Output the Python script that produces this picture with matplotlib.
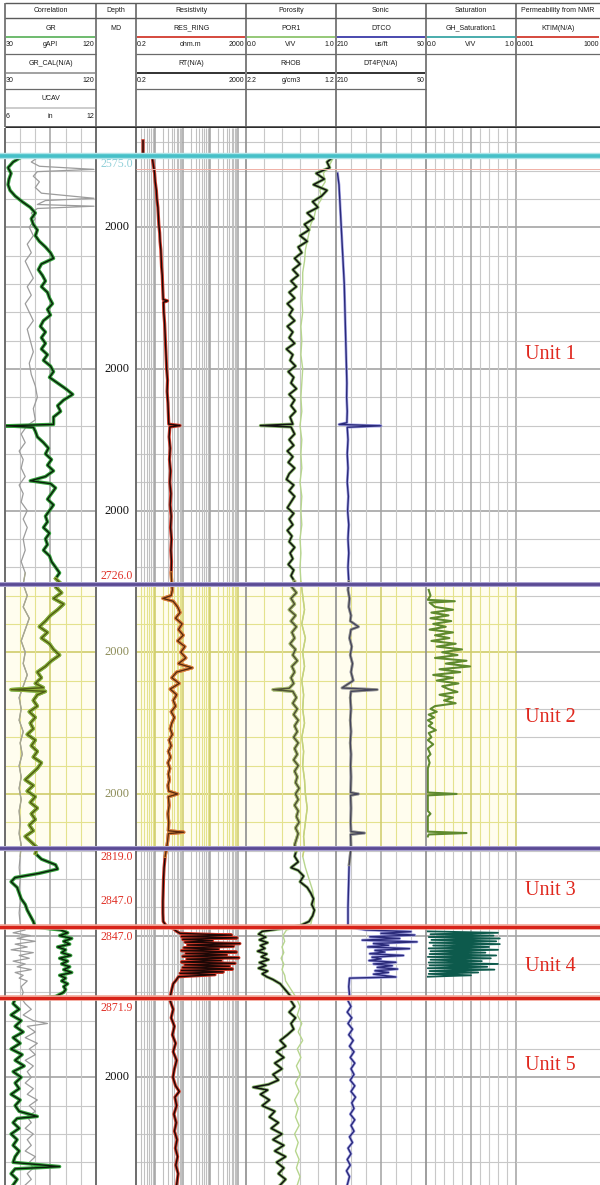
import numpy as np
import matplotlib
matplotlib.use("Agg")
import matplotlib.pyplot as plt

plt.rcParams['font.family'] = ['Liberation Sans', 'DejaVu Sans']

# formation tops (m MD)
tops = [2575.0, 2726.0, 2819.0, 2847.0, 2871.9]
unit_names = ["Unit 1", "Unit 2", "Unit 3", "Unit 4", "Unit 5"]
unit_label_depth = [2645, 2773, 2834, 2861, 2896]

depth_ticks = [2600, 2650, 2700, 2750, 2800, 2900]
depth_tick_labels = ["2000", "2000", "2000", "2000", "2000", "2000"]

# header text
titles = ["Correlation", "Depth", "Resistivity", "Porosity", "Sonic", "Saturation", "Permeability from NMR"]
curve_rows = [
    [("GR", "30", "gAPI", "120", "#62b562"), ("GR_CAL(N/A)", "30", "", "120", "#9a9a9a"),
     ("UCAV", "6", "in", "12", "#c8c8c8")],
    [],
    [("RES_RING", "0.2", "ohm.m", "2000", "#d23a2e"), ("RT(N/A)", "0.2", "", "2000", "#222222")],
    [("POR1", "0.0", "V/V", "1.0", "#8cc46c"), ("RHOB", "2.2", "g/cm3", "1.2", "#222222")],
    [("DTCO", "210", "us/ft", "90", "#3c3ca8"), ("DT4P(N/A)", "210", "", "90", "#222222")],
    [("GH_Saturation1", "0.0", "V/V", "1.0", "#3aa6a6")],
    [("KTIM(N/A)", "0.001", "", "1000", "#d23a2e")],
]

# curves: (depth m, value)
gr = [(2575.5, 45), (2577, 38), (2579, 33), (2581, 36), (2583, 34), (2585, 33), (2587, 35), (2589, 40),
      (2591, 47), (2593, 55), (2595, 60), (2597, 56), (2599, 58), (2601, 62), (2603, 60), (2605, 64),
      (2607, 70), (2609, 75), (2611, 78), (2613, 66), (2615, 63), (2617, 67), (2619, 70), (2621, 66),
      (2623, 72), (2625, 74), (2627, 77), (2629, 72), (2631, 75), (2633, 68), (2635, 65), (2637, 70),
      (2639, 66), (2641, 70), (2643, 66), (2645, 72), (2647, 68), (2649, 75), (2651, 78), (2653, 74),
      (2655, 82), (2657, 90), (2659, 97), (2661, 88), (2663, 82), (2665, 85), (2667, 78), (2669.6, 78),
      (2670.1, 31), (2670.6, 58), (2672, 60), (2674, 62), (2676, 68), (2678, 73), (2680, 70), (2682, 76),
      (2684, 72), (2686, 78), (2688, 70), (2689.5, 55), (2690.5, 75), (2692, 80), (2694, 76), (2696, 72),
      (2698, 78), (2700, 74), (2702, 70), (2704, 72), (2706, 68), (2708, 74), (2710, 70), (2712, 72),
      (2714, 68), (2716, 74), (2718, 76), (2720, 80), (2722, 84), (2724, 80), (2726, 86),
      (2727, 80), (2729, 86), (2731, 78), (2733, 88), (2735, 82), (2737, 75), (2739, 70), (2741, 64),
      (2743, 72), (2745, 66), (2747, 74), (2749, 78), (2751, 84), (2753, 76), (2755, 70), (2757, 62),
      (2759, 66), (2761, 60), (2762.5, 68), (2763.2, 36), (2763.8, 70), (2765, 62), (2767, 58), (2769, 62),
      (2771, 54), (2773, 60), (2775, 55), (2777, 58), (2779, 52), (2781, 60), (2783, 56), (2785, 62),
      (2787, 58), (2789, 66), (2791, 62), (2793, 56), (2795, 50), (2797, 58), (2799, 52), (2801, 60),
      (2803, 55), (2805, 62), (2807, 56), (2809, 60), (2811, 54), (2813, 58), (2815, 50), (2817, 56),
      (2819, 62), (2821, 60), (2823, 66), (2825, 80), (2826.5, 82), (2828, 64), (2829.5, 40), (2831, 36),
      (2833, 42), (2835, 44), (2837, 46), (2839, 50), (2841, 52), (2843, 55), (2845, 58), (2847, 60),
      (2848, 85), (2849, 92), (2850, 84), (2851, 96), (2852, 88), (2853, 94), (2854, 82), (2855, 90),
      (2856, 86), (2857, 95), (2858, 84), (2859, 92), (2860, 86), (2861, 94), (2862, 88), (2863, 96),
      (2864, 84), (2865, 90), (2866, 86), (2867, 92), (2868, 88), (2869, 90), (2870, 88), (2871.5, 80),
      (2872.5, 40), (2874, 38), (2876, 44), (2878, 36), (2880, 46), (2882, 40), (2884, 48), (2886, 38),
      (2888, 45), (2890, 36), (2892, 47), (2894, 40), (2896, 49), (2898, 38), (2900, 46), (2902, 40),
      (2904, 44), (2906, 36), (2908, 45), (2910, 40), (2912, 44), (2913.8, 62), (2914.5, 42), (2916, 38),
      (2918, 44), (2920, 36), (2922, 42), (2924, 38), (2926, 44), (2928, 40), (2930, 38), (2931.5, 84),
      (2932.3, 40), (2934, 36), (2936, 42), (2938, 38)]

gr_cal = [(2575.5, 62), (2577, 56), (2578.5, 64), (2579.6, 118), (2580.4, 62), (2582, 58), (2584, 64),
          (2586, 60), (2588, 66), (2589.8, 118), (2590.6, 70), (2592, 62), (2592.6, 118), (2593.4, 62),
          (2595, 56), (2597, 60), (2600, 54), (2603, 58), (2606, 52), (2609, 56), (2612, 50), (2615, 54),
          (2618, 58), (2621, 52), (2624, 56), (2627, 50), (2630, 54), (2633, 58), (2636, 52), (2640, 55),
          (2644, 58), (2648, 54), (2652, 56), (2656, 60), (2660, 62), (2664, 58), (2668, 60), (2670, 52),
          (2673, 46), (2676, 50), (2679, 44), (2682, 48), (2685, 46), (2688, 50), (2691, 44), (2694, 48),
          (2697, 46), (2700, 52), (2703, 48), (2706, 52), (2710, 48), (2714, 50), (2718, 46), (2722, 50),
          (2726, 48), (2730, 52), (2734, 48), (2738, 54), (2742, 50), (2746, 46), (2750, 50), (2754, 48),
          (2758, 52), (2762, 48), (2766, 44), (2770, 46), (2774, 44), (2778, 48), (2782, 45), (2786, 47),
          (2790, 44), (2794, 46), (2798, 44), (2802, 46), (2806, 44), (2810, 45), (2814, 44), (2818, 46),
          (2822, 45), (2826, 44), (2830, 45), (2834, 44), (2838, 45), (2842, 44), (2846, 45), (2848, 50),
          (2849, 38), (2850, 55), (2851, 42), (2852, 60), (2853, 40), (2854, 52), (2855, 36), (2856, 58),
          (2857, 44), (2858, 54), (2859, 38), (2860, 50), (2861, 42), (2862, 56), (2863, 40), (2864, 48),
          (2865, 44), (2866, 52), (2868, 46), (2870, 48), (2872, 46), (2874, 50), (2876, 56), (2878, 48),
          (2880, 58), (2881, 72), (2882, 52), (2884, 60), (2886, 50), (2888, 62), (2890, 54), (2892, 60),
          (2894, 50), (2896, 58), (2898, 52), (2900, 56), (2902, 50), (2904, 58), (2906, 52), (2908, 62),
          (2910, 54), (2912, 60), (2914, 52), (2916, 56), (2918, 50), (2920, 58), (2922, 52), (2924, 56),
          (2926, 50), (2928, 60), (2930, 54), (2932, 58), (2934, 52), (2936, 56), (2938, 50)]

res = [(2569.5, 0.36), (2574.5, 0.36), (2575.5, 0.78), (2578, 0.85), (2581, 0.95), (2584, 1.0), (2587, 1.1),
       (2590, 1.15), (2593, 1.25), (2596, 1.3), (2599, 1.35), (2602, 1.45), (2605, 1.5), (2608, 1.6),
       (2611, 1.65), (2614, 1.7), (2617, 1.8), (2620, 1.85), (2623, 1.9), (2625.5, 1.95), (2626, 2.8),
       (2626.5, 2.0), (2630, 2.05), (2634, 2.2), (2638, 2.3), (2642, 2.4), (2646, 2.5), (2650, 2.6),
       (2654, 2.8), (2658, 2.7), (2662, 2.9), (2666, 3.0), (2669.5, 3.1), (2670, 8.0), (2670.5, 3.4),
       (2674, 3.2), (2678, 3.5), (2682, 3.3), (2686, 3.6), (2690, 3.4), (2694, 3.7), (2698, 3.5),
       (2702, 3.8), (2706, 3.6), (2710, 3.9), (2714, 3.7), (2718, 3.9), (2722, 3.8), (2726, 4.0),
       (2728, 4.2), (2730, 3.8), (2731, 1.9), (2732, 4.5), (2734, 6.5), (2736, 8.0), (2738, 5.5),
       (2740, 9.5), (2742, 7.0), (2744, 10.5), (2746, 6.5), (2748, 12.0), (2750, 8.5), (2752, 13.0),
       (2754, 7.0), (2755.5, 22.0), (2757, 6.0), (2759, 4.0), (2761, 7.5), (2763, 3.5), (2765, 6.0),
       (2767, 4.5), (2769, 5.5), (2771, 3.8), (2773, 5.0), (2775, 4.0), (2777, 3.5), (2779, 4.2),
       (2781, 3.2), (2783, 3.8), (2785, 3.0), (2787, 3.6), (2789, 2.9), (2791, 3.4), (2793, 3.0),
       (2795, 3.3), (2797, 2.9), (2799, 3.1), (2800, 6.5), (2801, 3.0), (2804, 3.2), (2807, 2.9),
       (2810, 3.1), (2813, 3.0), (2813.5, 11.0), (2814, 3.0), (2817, 2.8), (2819, 2.6), (2822, 2.3),
       (2826, 2.1), (2830, 2.0), (2834, 1.95), (2838, 1.9), (2842, 1.9), (2845, 1.95), (2846.5, 2.5),
       (2847.5, 4.5), (2848.5, 6.0), (2849.2, 8.0), (2849.8, 600), (2850.3, 9), (2850.8, 950),
       (2851.3, 10), (2851.8, 120), (2852.3, 12), (2852.8, 1200), (2853.3, 15), (2853.8, 700),
       (2854.3, 11), (2854.8, 200), (2855.3, 9), (2855.8, 900), (2856.3, 13), (2856.8, 400),
       (2857.3, 10), (2857.8, 1100), (2858.3, 14), (2858.8, 250), (2859.3, 9), (2859.8, 800),
       (2860.3, 12), (2860.8, 500), (2861.3, 10), (2861.8, 650), (2862.3, 9), (2862.8, 300),
       (2863.3, 8), (2863.8, 150), (2864.5, 7), (2865.5, 6), (2867, 4.5), (2869, 4.0), (2871, 3.6),
       (2873, 3.5), (2876, 4.5), (2879, 3.8), (2882, 5.0), (2885, 4.2), (2888, 5.5), (2891, 4.5),
       (2894, 6.0), (2897, 5.0), (2900, 4.4), (2903, 5.5), (2905, 7.5), (2907, 5.2), (2910, 6.0),
       (2913, 4.8), (2916, 5.8), (2919, 5.0), (2922, 6.2), (2925, 5.4), (2928, 6.5), (2931, 5.6),
       (2934, 6.8), (2938, 6.0)]

rhob = [(2575.5, 1.24), (2577, 1.30), (2579, 1.27), (2581, 1.42), (2583, 1.33), (2585, 1.45), (2587, 1.30),
        (2589, 1.36), (2591, 1.46), (2593, 1.40), (2595, 1.52), (2597, 1.45), (2599, 1.55), (2601, 1.50),
        (2603, 1.60), (2605, 1.52), (2607, 1.62), (2609, 1.58), (2611, 1.66), (2613, 1.60), (2615, 1.68),
        (2617, 1.62), (2619, 1.70), (2621, 1.64), (2623, 1.72), (2625, 1.66), (2627, 1.74), (2629, 1.68),
        (2631, 1.72), (2633, 1.66), (2635, 1.74), (2637, 1.68), (2639, 1.72), (2641, 1.66), (2643, 1.75),
        (2645, 1.68), (2647, 1.71), (2649, 1.65), (2651, 1.73), (2653, 1.67), (2655, 1.70), (2657, 1.64),
        (2659, 1.72), (2661, 1.66), (2663, 1.70), (2665, 1.65), (2667, 1.71), (2669.5, 1.68), (2670, 2.04),
        (2670.5, 1.70), (2673, 1.66), (2675, 1.72), (2677, 1.67), (2679, 1.74), (2681, 1.68), (2683, 1.73),
        (2685, 1.66), (2687, 1.72), (2689, 1.75), (2691, 1.67), (2693, 1.72), (2695, 1.66), (2697, 1.70),
        (2699, 1.74), (2701, 1.67), (2703, 1.72), (2705, 1.68), (2707, 1.74), (2709, 1.69), (2711, 1.72),
        (2713, 1.66), (2715, 1.71), (2717, 1.68), (2719, 1.73), (2721, 1.67), (2723, 1.70), (2725, 1.66),
        (2727, 1.69), (2729, 1.64), (2731, 1.70), (2733, 1.66), (2735, 1.72), (2737, 1.65), (2739, 1.70),
        (2741, 1.64), (2743, 1.69), (2745, 1.66), (2747, 1.71), (2749, 1.65), (2751, 1.68), (2753, 1.63),
        (2755, 1.69), (2757, 1.66), (2759, 1.70), (2761, 1.67), (2762.7, 1.72), (2763.2, 1.90),
        (2763.8, 1.68), (2766, 1.64), (2768, 1.68), (2770, 1.63), (2772, 1.67), (2774, 1.62), (2776, 1.66),
        (2778, 1.63), (2780, 1.67), (2782, 1.62), (2784, 1.66), (2786, 1.63), (2788, 1.67), (2790, 1.62),
        (2792, 1.66), (2794, 1.63), (2796, 1.65), (2798, 1.61), (2800, 1.65), (2802, 1.62), (2804, 1.66),
        (2806, 1.62), (2808, 1.64), (2810, 1.61), (2812, 1.65), (2814, 1.62), (2816, 1.64), (2818, 1.66),
        (2820, 1.64), (2822, 1.66), (2824, 1.62), (2826, 1.70), (2827, 1.62), (2829, 1.56), (2831, 1.60),
        (2833, 1.52), (2835, 1.48), (2837, 1.45), (2839, 1.47), (2841, 1.44), (2843, 1.46), (2845, 1.50),
        (2846.5, 1.60), (2847.5, 1.80), (2848.5, 2.02), (2849.5, 2.06), (2850.5, 1.98), (2851.5, 2.05),
        (2852.5, 1.96), (2853.5, 2.04), (2854.5, 1.99), (2855.5, 2.07), (2856.5, 1.97), (2857.5, 2.03),
        (2858.5, 1.95), (2859.5, 2.05), (2860.5, 1.98), (2861.5, 2.06), (2862.5, 1.96), (2863.5, 2.02),
        (2864.5, 1.97), (2865.5, 1.90), (2867, 1.82), (2868.5, 1.78), (2870, 1.74), (2871.5, 1.70),
        (2873, 1.70), (2875, 1.66), (2877, 1.72), (2879, 1.65), (2881, 1.70), (2883, 1.67), (2885, 1.74),
        (2887, 1.82), (2889, 1.76), (2891, 1.86), (2893, 1.78), (2895, 1.88), (2897, 1.80), (2899, 1.90),
        (2901, 1.84), (2902.5, 1.95), (2903.5, 2.12), (2904.5, 1.96), (2906, 2.04), (2908, 1.94),
        (2910, 2.02), (2912, 1.88), (2914, 1.94), (2916, 1.84), (2918, 1.92), (2920, 1.80), (2922, 1.90),
        (2924, 1.78), (2926, 1.88), (2928, 1.76), (2930, 1.86), (2932, 1.78), (2934, 1.84), (2936, 1.76),
        (2938, 1.82)]

por1 = [(2575.5, 0.97), (2578, 0.93), (2581, 0.86), (2584, 0.88), (2587, 0.82), (2590, 0.84), (2593, 0.78),
        (2596, 0.76), (2599, 0.72), (2602, 0.70), (2605, 0.68), (2608, 0.66), (2612, 0.65), (2616, 0.63),
        (2620, 0.63), (2625, 0.62), (2630, 0.63), (2635, 0.61), (2640, 0.62), (2645, 0.61), (2650, 0.63),
        (2655, 0.62), (2660, 0.61), (2665, 0.62), (2670, 0.60), (2675, 0.62), (2680, 0.61), (2685, 0.62),
        (2690, 0.60), (2695, 0.62), (2700, 0.61), (2705, 0.62), (2710, 0.60), (2715, 0.61), (2720, 0.60),
        (2725, 0.61), (2730, 0.63), (2735, 0.65), (2740, 0.62), (2745, 0.66), (2750, 0.63), (2755, 0.65),
        (2760, 0.62), (2765, 0.64), (2770, 0.63), (2775, 0.65), (2780, 0.62), (2785, 0.64), (2790, 0.63),
        (2795, 0.65), (2800, 0.66), (2805, 0.68), (2810, 0.66), (2815, 0.64), (2819, 0.65), (2822, 0.63),
        (2826, 0.66), (2830, 0.70), (2834, 0.74), (2838, 0.76), (2842, 0.75), (2846, 0.72), (2848, 0.45),
        (2850, 0.41), (2852, 0.43), (2854, 0.40), (2856, 0.42), (2858, 0.39), (2860, 0.42), (2862, 0.40),
        (2864, 0.43), (2866, 0.44), (2868, 0.48), (2870, 0.52), (2872, 0.56), (2875, 0.60), (2878, 0.57),
        (2881, 0.62), (2884, 0.58), (2887, 0.63), (2890, 0.57), (2893, 0.61), (2896, 0.56), (2899, 0.60),
        (2902, 0.55), (2905, 0.59), (2908, 0.54), (2911, 0.58), (2914, 0.55), (2917, 0.59), (2920, 0.54),
        (2923, 0.58), (2926, 0.55), (2929, 0.59), (2932, 0.56), (2935, 0.60), (2938, 0.57)]

dtco = [(2581, 208), (2585, 206), (2590, 205), (2595, 204), (2600, 203), (2605, 202), (2610, 201),
        (2615, 200), (2620, 199), (2625, 198.5), (2630, 198), (2635, 197.5), (2640, 197), (2645, 196.5),
        (2650, 196), (2655, 195.5), (2660, 195.8), (2665, 195), (2669, 195.5), (2669.6, 206), (2670.1, 150),
        (2670.6, 195), (2675, 194), (2680, 195), (2685, 194), (2690, 195), (2695, 193.5), (2700, 194.5),
        (2705, 193), (2710, 194), (2715, 193), (2720, 194), (2725, 193), (2728, 194), (2731, 192),
        (2734, 193), (2737, 190), (2739, 191), (2741, 180), (2742, 190), (2745, 192), (2748, 189),
        (2751, 191), (2754, 188), (2757, 190), (2760, 187), (2762.6, 202), (2763.2, 155), (2763.8, 190),
        (2766, 191), (2770, 190), (2774, 191), (2778, 190), (2782, 191), (2786, 190), (2790, 190.5),
        (2794, 190), (2799.5, 190.5), (2800, 180), (2800.5, 190.5), (2805, 190), (2810, 190.5),
        (2813.3, 190), (2813.8, 172), (2814.3, 190.5), (2819, 190), (2825, 192.5), (2830, 193),
        (2835, 193.5), (2840, 194), (2845, 194), (2847, 194), (2848, 170), (2848.6, 110), (2849.2, 150),
        (2849.8, 105), (2850.4, 165), (2851, 125), (2851.6, 175), (2852.2, 102), (2852.8, 160),
        (2853.4, 140), (2854, 168), (2854.6, 112), (2855.2, 158), (2855.8, 145), (2856.4, 165),
        (2857, 120), (2857.6, 162), (2858.2, 150), (2858.8, 166), (2859.4, 130), (2860, 160),
        (2860.6, 135), (2861.2, 155), (2861.8, 128), (2862.4, 158), (2863, 140), (2863.6, 160),
        (2864.6, 130), (2865.0, 192), (2868, 193), (2871, 192), (2873, 194), (2875, 190), (2877, 195),
        (2879, 189), (2881, 194), (2883, 188), (2885, 193), (2887, 187), (2889, 192), (2891, 186),
        (2893, 191), (2895, 185), (2897, 190), (2899, 186), (2901, 191), (2903, 185), (2905, 190),
        (2907, 184), (2909, 189), (2911, 186), (2913, 191), (2915, 185), (2917, 190), (2919, 186),
        (2921, 192), (2923, 188), (2925, 194), (2927, 190), (2929, 195), (2931, 191), (2933, 196),
        (2935, 192), (2938, 195)]

sw_unit2 = [(2728, 0.03), (2730, 0.05), (2731.5, 0.02), (2732, 0.32), (2732.5, 0.04), (2734, 0.10),
            (2735, 0.30), (2736, 0.06), (2737, 0.25), (2738, 0.05), (2739, 0.28), (2740, 0.08), (2741, 0.22),
            (2742, 0.04), (2743, 0.30), (2744, 0.10), (2745, 0.26), (2746, 0.06), (2747, 0.33), (2748, 0.12),
            (2749, 0.40), (2750, 0.18), (2751, 0.35), (2752, 0.10), (2753, 0.45), (2754, 0.22), (2755, 0.49),
            (2756, 0.15), (2757, 0.38), (2758, 0.08), (2759, 0.30), (2760, 0.12), (2761, 0.36), (2762, 0.18),
            (2763, 0.25), (2764, 0.35), (2765, 0.15), (2766, 0.30), (2767, 0.20), (2768, 0.33), (2769, 0.10),
            (2770, 0.05), (2771, 0.12), (2772, 0.03), (2773, 0.09), (2774, 0.02), (2775, 0.07), (2776, 0.03),
            (2777.5, 0.11), (2778.5, 0.03), (2780, 0.06), (2781, 0.02), (2782.5, 0.08), (2784, 0.02),
            (2786, 0.05), (2787, 0.02), (2789, 0.04), (2791, 0.02), (2799.5, 0.02), (2800, 0.34),
            (2800.5, 0.02), (2806, 0.02), (2807, 0.05), (2808, 0.02), (2813.3, 0.02), (2813.8, 0.45),
            (2814.3, 0.03), (2815, 0.02)]

sw_unit4 = [(2848.5, 0.02), (2849, 0.80), (2849.5, 0.05), (2850, 0.75), (2850.5, 0.03), (2851, 0.82),
            (2851.5, 0.06), (2852, 0.78), (2852.5, 0.04), (2853, 0.82), (2853.5, 0.08), (2854, 0.70),
            (2854.5, 0.03), (2855, 0.80), (2855.5, 0.05), (2856, 0.66), (2856.5, 0.04), (2857, 0.78),
            (2857.5, 0.02), (2858, 0.72), (2858.5, 0.05), (2859, 0.62), (2859.5, 0.03), (2860, 0.80),
            (2860.5, 0.04), (2861, 0.68), (2861.5, 0.02), (2862, 0.76), (2862.5, 0.04), (2863, 0.58),
            (2863.5, 0.03), (2864, 0.50), (2864.5, 0.02)]

# ---------------- layout ----------------
W, H = 600, 1185
HEAD_BOT, LOG_TOP, LOG_BOT = 128, 128, 1185
D_TOP, D_BOT = 2565.0, 2938.0
edges = [5, 96, 136, 246, 336, 426, 516, 600]
U2_TOP, U2_BOT = tops[1], tops[2]

GRID, GRID_MAJ = '#c8c8c8', '#a4a4a4'
YEL, YEL_MAJ = '#e4e28e', '#cfcc6a'

fig = plt.figure(figsize=(W / 100, H / 100), dpi=100)
fig.patch.set_facecolor('white')


def rect(x0, x1, y0=LOG_TOP, y1=LOG_BOT):
    return [x0 / W, 1 - y1 / H, (x1 - x0) / W, (y1 - y0) / H]


def make_track(x0, x1, xlim, log=False):
    ax = fig.add_axes(rect(x0, x1))
    if log:
        ax.set_xscale('log')
    ax.set_xlim(*xlim)
    ax.set_ylim(D_BOT, D_TOP)
    ax.set_axis_off()
    return ax


def hgrid(ax, yellow=True):
    for d in range(2570, 2940, 10):
        major = d % 50 == 0
        in_u2 = yellow and U2_TOP < d < U2_BOT
        if in_u2:
            c = YEL_MAJ if major else YEL
        else:
            c = GRID_MAJ if major else GRID
        ax.axhline(d, color=c, lw=1.2 if major else 0.8, zorder=1)


def vgrid(ax, xs, dark=(), lw=0.8, col=GRID):
    for x in xs:
        is_dark = x in dark
        c = '#a3a3a3' if is_dark else col
        cy = YEL_MAJ if is_dark else YEL
        w = lw * 1.4 if is_dark else lw
        ax.vlines(x, D_TOP, U2_TOP, color=c, lw=w, zorder=1, clip_on=False)
        ax.vlines(x, U2_TOP, U2_BOT, color=cy, lw=w, zorder=1, clip_on=False)
        ax.vlines(x, U2_BOT, D_BOT, color=c, lw=w, zorder=1, clip_on=False)


def tint_zone(ax):
    ax.axhspan(U2_TOP, U2_BOT, color='#fffdee', zorder=0, lw=0)


def draw_curve(ax, pairs, outer, inner, lw_out, lw_in, tint_outer=None, tint_inner=None):
    d, v = np.array(pairs, dtype=float).T
    ax.plot(v, d, color=outer, lw=lw_out, zorder=3, solid_joinstyle='round')
    if inner:
        ax.plot(v, d, color=inner, lw=lw_in, zorder=4, solid_joinstyle='round')
    if tint_outer:
        idx = np.where((d >= U2_TOP) & (d <= U2_BOT))[0]
        if len(idx):
            sl = slice(max(idx[0] - 1, 0), idx[-1] + 2)
            ax.plot(v[sl], d[sl], color=tint_outer, lw=lw_out, zorder=5, solid_joinstyle='round')
            if tint_inner:
                ax.plot(v[sl], d[sl], color=tint_inner, lw=lw_in, zorder=6, solid_joinstyle='round')


# correlation track
ax_gr = make_track(edges[0], edges[1], (30, 120))
tint_zone(ax_gr)
hgrid(ax_gr)
vgrid(ax_gr, [45, 60, 75, 90, 105], dark=(75,))
draw_curve(ax_gr, gr_cal, '#9c9c9c', None, 0.9, 0, tint_outer='#a8a88e')
draw_curve(ax_gr, gr, '#36a23e', '#0b1d0b', 2.5, 1.0, tint_outer='#93b13a', tint_inner='#4c5c16')

# depth track
ax_md = make_track(edges[1], edges[2], (0, 1))
for d, lab in zip(depth_ticks, depth_tick_labels):
    col = '#8c8c58' if U2_TOP < d < U2_BOT else '#111111'
    ax_md.text(0.52, d, lab, ha='center', va='center', fontsize=9, color=col,
               family=['Liberation Serif', 'DejaVu Serif'])

# resistivity track
ax_res = make_track(edges[2], edges[3], (0.2, 2000), log=True)
tint_zone(ax_res)
hgrid(ax_res)
res_lines = [m * 10.0 ** k for k in range(-1, 4) for m in range(1, 10)]
res_lines = [v for v in res_lines if 0.2 < v < 2000]
res_major = tuple(v for v in res_lines if abs(np.log10(v) - round(np.log10(v))) < 1e-9)
vgrid(ax_res, res_lines, dark=res_major, lw=0.8, col='#c0c0c0')
draw_curve(ax_res, res, '#d03a2a', '#1c0806', 2.3, 1.0, tint_outer='#e08d3e', tint_inner='#5a2a10')

# porosity track
ax_por = make_track(edges[3], edges[4], (0, 1))
tint_zone(ax_por)
hgrid(ax_por)
vgrid(ax_por, [0.2, 0.4, 0.6, 0.8])
draw_curve(ax_por, por1, '#b7d68e', None, 1.0, 0, tint_outer='#c8d27a')
ax_rhob = ax_por.twiny()
ax_rhob.set_xlim(2.2, 1.2)
ax_rhob.set_ylim(D_BOT, D_TOP)
ax_rhob.set_axis_off()
draw_curve(ax_rhob, rhob, '#88b66c', '#121212', 2.3, 1.1, tint_outer='#b6c47a', tint_inner='#4e5234')

# sonic track
ax_dt = make_track(edges[4], edges[5], (210, 90))
tint_zone(ax_dt)
hgrid(ax_dt)
vgrid(ax_dt, [190, 170, 150, 130, 110], dark=(150,))
draw_curve(ax_dt, dtco, '#a2a2e2', '#2a2a7a', 2.0, 1.0, tint_outer='#a8a890', tint_inner='#44445c')

# saturation track
ax_sw = make_track(edges[5], edges[6], (0, 1))
tint_zone(ax_sw)
hgrid(ax_sw)
vgrid(ax_sw, [0.1, 0.2, 0.3, 0.4, 0.5, 0.6, 0.7, 0.8, 0.9, 1.0], dark=(0.5, 1.0))
draw_curve(ax_sw, sw_unit2, '#5f8a2e', None, 1.5, 0)
draw_curve(ax_sw, sw_unit4, '#0d5a4c', None, 1.3, 0)

# permeability track (no curve data)
ax_k = make_track(edges[6], W + 2, (0.001, 1000), log=True)
hgrid(ax_k, yellow=False)

# overlay: track borders, formation tops and labels
ov = fig.add_axes(rect(0, W))
ov.set_xlim(0, W)
ov.set_ylim(D_BOT, D_TOP)
ov.set_axis_off()
ov.patch.set_alpha(0)
ov.vlines([edges[0], edges[1], edges[2]], D_TOP, D_BOT, color='#6c6c6c', lw=1.4)
ov.vlines([edges[3], edges[4], edges[5]], D_TOP, D_BOT, color='#8e8e8e', lw=1.2)
ov.hlines(2579.6, edges[2], W, color='#f0b0a6', lw=0.7)

top_style = [('#aee4e8', '#46c0c8', 4.6, 2.6),
             ('#aaa2cf', '#5a4a94', 3.6, 2.0),
             ('#aaa2cf', '#5a4a94', 3.6, 2.0),
             ('#f2a294', '#d8241a', 4.0, 2.2),
             ('#f2a294', '#d8241a', 4.0, 2.2)]
for d, (halo, core, lw_h, lw_c) in zip(tops, top_style):
    ov.axhline(d, color=halo, lw=lw_h, zorder=7)
    ov.axhline(d, color=core, lw=lw_c, zorder=8)

serif = ['Liberation Serif', 'DejaVu Serif']
label_offsets = [(tops[0], -8, '#8fcfd8'), (tops[1], 8, '#e03228'), (tops[2], -9, '#e03228'),
                 (tops[3], 26, '#e03228'), (tops[3], -10, '#e03228'), (tops[4], -10, '#e03228')]
for d, dy, col in label_offsets:
    ov.annotate(f"{d:.1f}", xy=(117, d), xytext=(0, dy), textcoords='offset pixels',
                ha='center', va='center', fontsize=8.5, color=col, family=serif, zorder=9)

for name, d in zip(unit_names, unit_label_depth):
    ov.text(525, d, name, ha='left', va='center', fontsize=14.5, color='#e0281e', family=serif, zorder=9)

# header
hx = fig.add_axes([0, 1 - HEAD_BOT / H, 1, HEAD_BOT / H])
hx.set_xlim(0, W)
hx.set_ylim(HEAD_BOT, 0)
hx.set_axis_off()
hx.hlines([3, 18], edges[0], W, color='#5a5a5a', lw=1.0)
hx.hlines(126.5, edges[0], W, color='#2e2e2e', lw=1.8)
hx.vlines(edges[:-1], 3, 126.5, color='#5a5a5a', lw=1.1)

fs = 5.0
for i, title in enumerate(titles):
    x0, x1 = edges[i], edges[i + 1]
    mid = (x0 + x1) / 2
    hx.text(mid, 10.5, title, ha='center', va='center', fontsize=fs, color='#1a1a1a')
    for k, (name, lo, unit, hi, col) in enumerate(curve_rows[i]):
        top = 18 + 35.5 * k
        hx.text(mid, top + 10, name, ha='center', va='center', fontsize=fs, color='#1a1a1a')
        hx.hlines(top + 19, x0 + 1, x1 - 1, color=col, lw=1.3)
        hx.text(x0 + 1, top + 27, lo, ha='left', va='center', fontsize=fs, color='#1a1a1a')
        if unit:
            hx.text(mid, top + 27, unit, ha='center', va='center', fontsize=fs, color='#1a1a1a')
        hx.text(x1 - 1.5, top + 27, hi, ha='right', va='center', fontsize=fs, color='#1a1a1a')
        if k < 2:
            hx.hlines(top + 35.5, x0, x1, color='#6a6a6a', lw=0.9)
hx.text((edges[1] + edges[2]) / 2, 28, "MD", ha='center', va='center', fontsize=fs, color='#1a1a1a')

fig.savefig("out.png", dpi=100, facecolor='white')
